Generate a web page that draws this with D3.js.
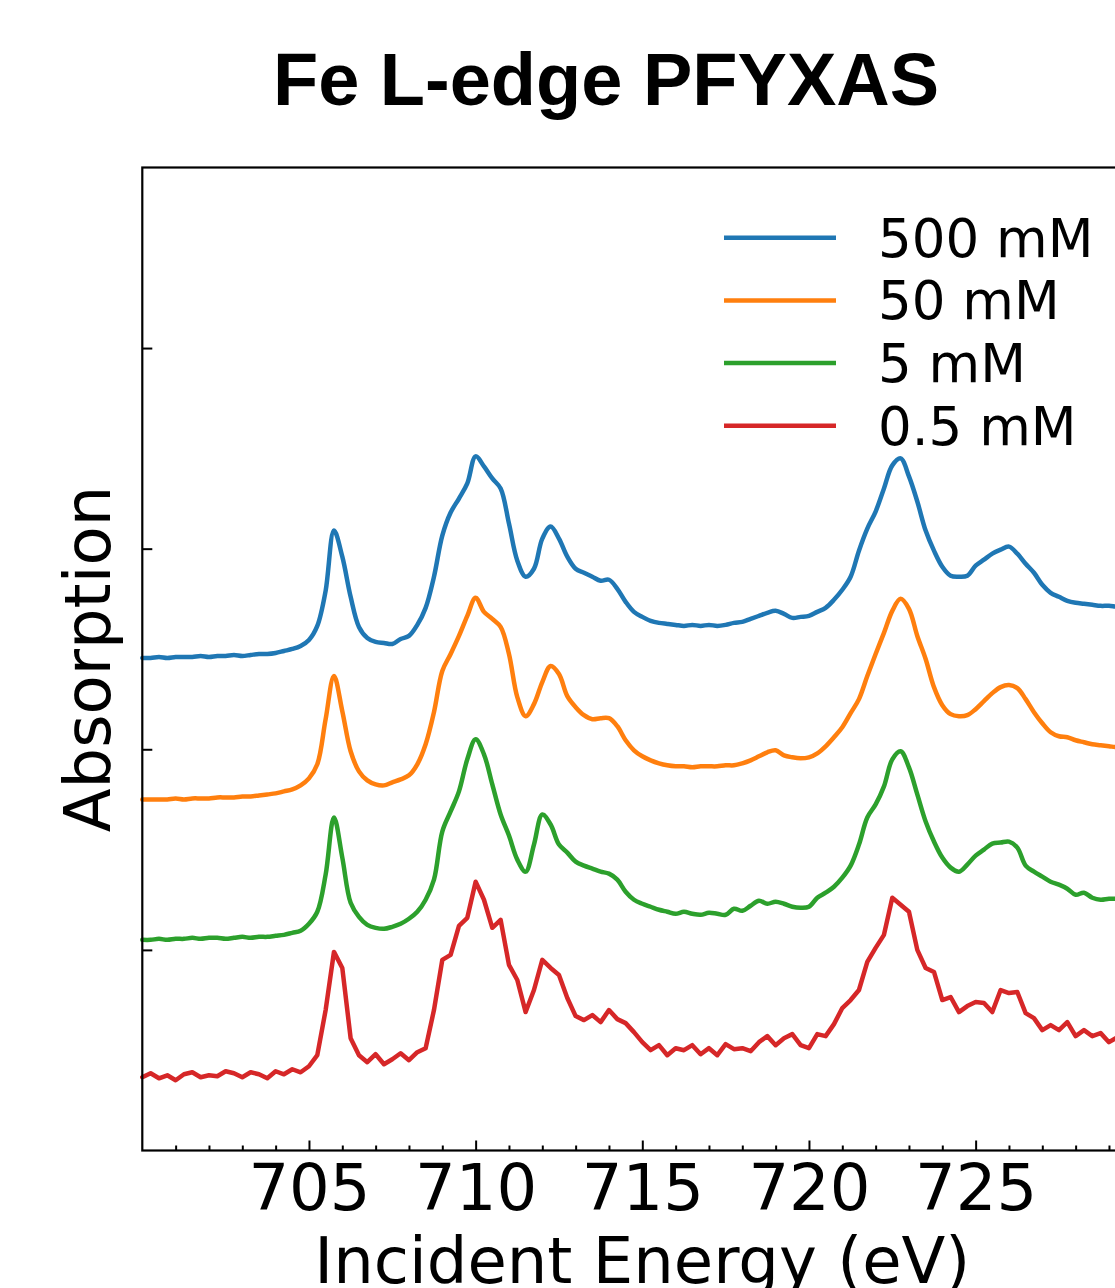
<!DOCTYPE html>
<html>
<head>
<meta charset="utf-8">
<script src="https://cdnjs.cloudflare.com/ajax/libs/d3/7.8.5/d3.min.js"></script>
<style>
body { margin: 0; background: #fff; }
svg { display: block; }
</style>
</head>
<body>
<script>
(function(){

// incident energy grid (eV)
var energy = [
    700, 700.25, 700.5, 700.75, 701, 701.25, 701.5, 701.75,
    702, 702.25, 702.5, 702.75, 703, 703.25, 703.5, 703.75,
    704, 704.25, 704.5, 704.75, 705, 705.25, 705.5, 705.75,
    706, 706.25, 706.5, 706.75, 707, 707.25, 707.5, 707.75,
    708, 708.25, 708.5, 708.75, 709, 709.25, 709.5, 709.75,
    710, 710.25, 710.5, 710.75, 711, 711.25, 711.5, 711.75,
    712, 712.25, 712.5, 712.75, 713, 713.25, 713.5, 713.75,
    714, 714.25, 714.5, 714.75, 715, 715.25, 715.5, 715.75,
    716, 716.25, 716.5, 716.75, 717, 717.25, 717.5, 717.75,
    718, 718.25, 718.5, 718.75, 719, 719.25, 719.5, 719.75,
    720, 720.25, 720.5, 720.75, 721, 721.25, 721.5, 721.75,
    722, 722.25, 722.5, 722.75, 723, 723.25, 723.5, 723.75,
    724, 724.25, 724.5, 724.75, 725, 725.25, 725.5, 725.75,
    726, 726.25, 726.5, 726.75, 727, 727.25, 727.5, 727.75,
    728, 728.25, 728.5, 728.75, 729, 729.25, 729.5
];

// absorption (offset, arbitrary units) for each concentration
var abs500 = [
    491, 491, 492, 491, 492, 492, 492, 493,
    492, 493, 493, 494, 493, 494, 495, 495,
    496, 498, 500, 503, 509, 523, 558, 618,
    592, 552, 522, 511, 507, 506, 505, 510,
    513, 524, 541, 572, 613, 636, 650, 665,
    692, 682, 670, 660, 625, 588, 572, 580,
    610, 622, 610, 592, 580, 576, 572, 568,
    569, 560, 547, 537, 532, 528, 526, 525,
    524, 523, 524, 523, 524, 523, 524, 526,
    527, 530, 533, 536, 538, 535, 531, 532,
    533, 537, 541, 549, 559, 572, 598, 620,
    637, 660, 683, 690, 672, 647, 618, 598,
    582, 573, 572, 573, 583, 589, 595, 599,
    602, 595, 585, 576, 564, 556, 552, 548,
    546, 545, 544, 543, 543, 542, 542
];
var abs50 = [
    350, 350, 350, 350, 351, 350, 351, 351,
    351, 352, 352, 352, 353, 353, 354, 355,
    356, 358, 360, 364, 371, 385, 430, 473,
    438, 398, 378, 369, 365, 364, 367, 370,
    374, 385, 405, 437, 478, 495, 513, 533,
    551, 537, 530, 522, 495, 452, 433, 445,
    467, 483, 475, 453, 442, 434, 430, 431,
    431, 423, 409, 399, 393, 389, 386, 384,
    383, 383, 382, 383, 383, 383, 384, 384,
    386, 389, 393, 397, 399, 394, 392, 391,
    392, 396, 403, 412, 422, 436, 450, 473,
    495, 516, 538, 550, 540, 513, 490, 462,
    444, 435, 433, 434, 440, 448, 456, 462,
    464, 461, 450, 437, 426, 417, 413, 412,
    409, 407, 405, 404, 403, 402, 402
];
var abs5 = [
    210, 210, 211, 210, 211, 211, 212, 211,
    212, 212, 211, 212, 213, 212, 213, 213,
    214, 215, 217, 219, 226, 238, 275, 332,
    292, 247, 233, 225, 222, 221, 223, 226,
    231, 238, 250, 270, 318, 338, 358, 390,
    410, 395, 365, 335, 314, 290, 278, 305,
    335, 325, 305, 297, 288, 284, 281, 278,
    276, 270, 258, 250, 246, 243, 240, 238,
    236, 238, 236, 235, 237, 236, 235, 241,
    239, 244, 249, 246, 248, 246, 243, 242,
    243, 252, 257, 263, 272, 284, 305, 332,
    345, 363, 390, 398, 382, 355, 328, 308,
    292, 282, 278, 285, 294, 300, 306, 307,
    308, 302, 284, 278, 273, 268, 265, 261,
    255, 257, 252, 250, 251, 251, 251
];
var abs05 = [
    73, 77, 72, 75, 70, 76, 78, 73,
    75, 74, 79, 77, 73, 78, 76, 72,
    79, 76, 81, 78, 84, 95, 140, 198,
    182, 112, 95, 88, 96, 86, 91, 97,
    90, 98, 102, 140, 190, 195, 224, 232,
    268, 250, 222, 230, 185, 170, 138, 160,
    190, 182, 175, 152, 134, 130, 135, 128,
    140, 131, 127, 118, 108, 100, 105, 95,
    102, 100, 105, 96, 102, 95, 106, 101,
    102, 99, 108, 114, 105, 112, 116, 105,
    102, 116, 114, 126, 142, 150, 160, 188,
    202, 215, 252, 245, 238, 200, 182, 178,
    150, 153, 138, 144, 148, 147, 138, 160,
    157, 158, 137, 132, 120, 125, 120, 128,
    114, 120, 114, 117, 108, 113, 112
];

var seriesNames = ["500 mM", "50 mM", "5 mM", "0.5 mM"];
var seriesValues = [abs500, abs50, abs5, abs05];
var seriesColors = ["#1f77b4", "#ff7f0e", "#2ca02c", "#d62728"];

// tick values
var xMajorTicks = [705, 710, 715, 720, 725];
var xMinorTicks = [701, 702, 703, 704, 706, 707, 708, 709, 711, 712, 713, 714,
                   716, 717, 718, 719, 721, 722, 723, 724, 726, 727, 728, 729];
var yTicks = [200, 400, 600, 800];

// figure dimensions
var width = 1115,
    height = 1288,
    margin = {left: 142.3, top: 167.5},
    plotWidth = 1000,
    plotHeight = 983,
    fontFamily = "'DejaVu Sans', sans-serif";

var svg = d3.select("body")
    .append("svg")
    .attr("width", width)
    .attr("height", height);

// title
svg.append("text")
    .attr("x", 606)
    .attr("y", 105)
    .attr("text-anchor", "middle")
    .style("font-family", "'Liberation Sans', Arial, sans-serif")
    .style("font-weight", "bold")
    .style("font-size", "74px")
    .text("Fe L-edge PFYXAS");

var plot = svg.append("g")
    .attr("transform", "translate(" + margin.left + "," + margin.top + ")");

// scales
var x = d3.scaleLinear()
    .domain([700, 730])
    .range([0, plotWidth]);

var y = d3.scaleLinear()
    .domain([0, 980])
    .range([plotHeight, 0]);

// spectra: smooth traces for the strong samples, plain segments for the noisy one
var smoothLine = d3.line()
    .curve(d3.curveCatmullRom.alpha(0.5))
    .x(function(d, i){ return x(energy[i]); })
    .y(function(d){ return y(d); });

var rawLine = d3.line()
    .x(function(d, i){ return x(energy[i]); })
    .y(function(d){ return y(d); });

plot.selectAll(".spectrum")
    .data(seriesValues)
    .enter()
    .append("path")
    .attr("class", "spectrum")
    .attr("d", function(d, i){ return i == 3 ? rawLine(d) : smoothLine(d); })
    .attr("fill", "none")
    .attr("stroke", function(d, i){ return seriesColors[i]; })
    .attr("stroke-width", 4.5)
    .attr("stroke-linejoin", "round")
    .attr("stroke-linecap", "round");

// x axis, major ticks with labels
var xAxis = plot.append("g")
    .attr("transform", "translate(0," + plotHeight + ")")
    .call(d3.axisBottom(x)
        .tickValues(xMajorTicks)
        .tickSizeInner(-10)
        .tickSizeOuter(0)
        .tickFormat(d3.format("d")));

xAxis.selectAll("text")
    .attr("y", 59)
    .attr("dy", null)
    .style("font-family", fontFamily)
    .style("font-size", "64px")
    .attr("fill", "#000");

// x axis, minor ticks
var xMinor = plot.append("g")
    .attr("transform", "translate(0," + plotHeight + ")")
    .call(d3.axisBottom(x)
        .tickValues(xMinorTicks)
        .tickSizeInner(-5)
        .tickSizeOuter(0)
        .tickFormat(""));

// y axis, ticks only
var yAxis = plot.append("g")
    .call(d3.axisLeft(y)
        .tickValues(yTicks)
        .tickSizeInner(-10)
        .tickSizeOuter(0)
        .tickFormat(""));

plot.selectAll(".domain").remove();
plot.selectAll(".tick line")
    .attr("stroke", "#000")
    .attr("stroke-width", 2);

// frame
plot.append("rect")
    .attr("x", 0)
    .attr("y", 0)
    .attr("width", plotWidth)
    .attr("height", plotHeight)
    .attr("fill", "none")
    .attr("stroke", "#000")
    .attr("stroke-width", 2.2);

// axis labels
svg.append("text")
    .attr("x", margin.left + plotWidth / 2)
    .attr("y", 1283)
    .attr("text-anchor", "middle")
    .style("font-family", fontFamily)
    .style("font-size", "64px")
    .text("Incident Energy (eV)");

svg.append("text")
    .attr("transform", "translate(110," + (margin.top + plotHeight / 2) + ") rotate(-90)")
    .attr("text-anchor", "middle")
    .style("font-family", fontFamily)
    .style("font-size", "64px")
    .text("Absorption");

// legend
var legend = svg.append("g")
    .attr("transform", "translate(724,237.7)");

var entries = legend.selectAll(".entry")
    .data(seriesNames)
    .enter()
    .append("g")
    .attr("class", "entry")
    .attr("transform", function(d, i){ return "translate(0," + (i * 62.7) + ")"; });

entries.append("line")
    .attr("x1", 0)
    .attr("x2", 112)
    .attr("y1", 0)
    .attr("y2", 0)
    .attr("stroke", function(d, i){ return seriesColors[i]; })
    .attr("stroke-width", 4.5);

entries.append("text")
    .attr("x", 154)
    .attr("y", 19)
    .style("font-family", fontFamily)
    .style("font-size", "53px")
    .text(function(d){ return d; });

})();
</script>
</body>
</html>
